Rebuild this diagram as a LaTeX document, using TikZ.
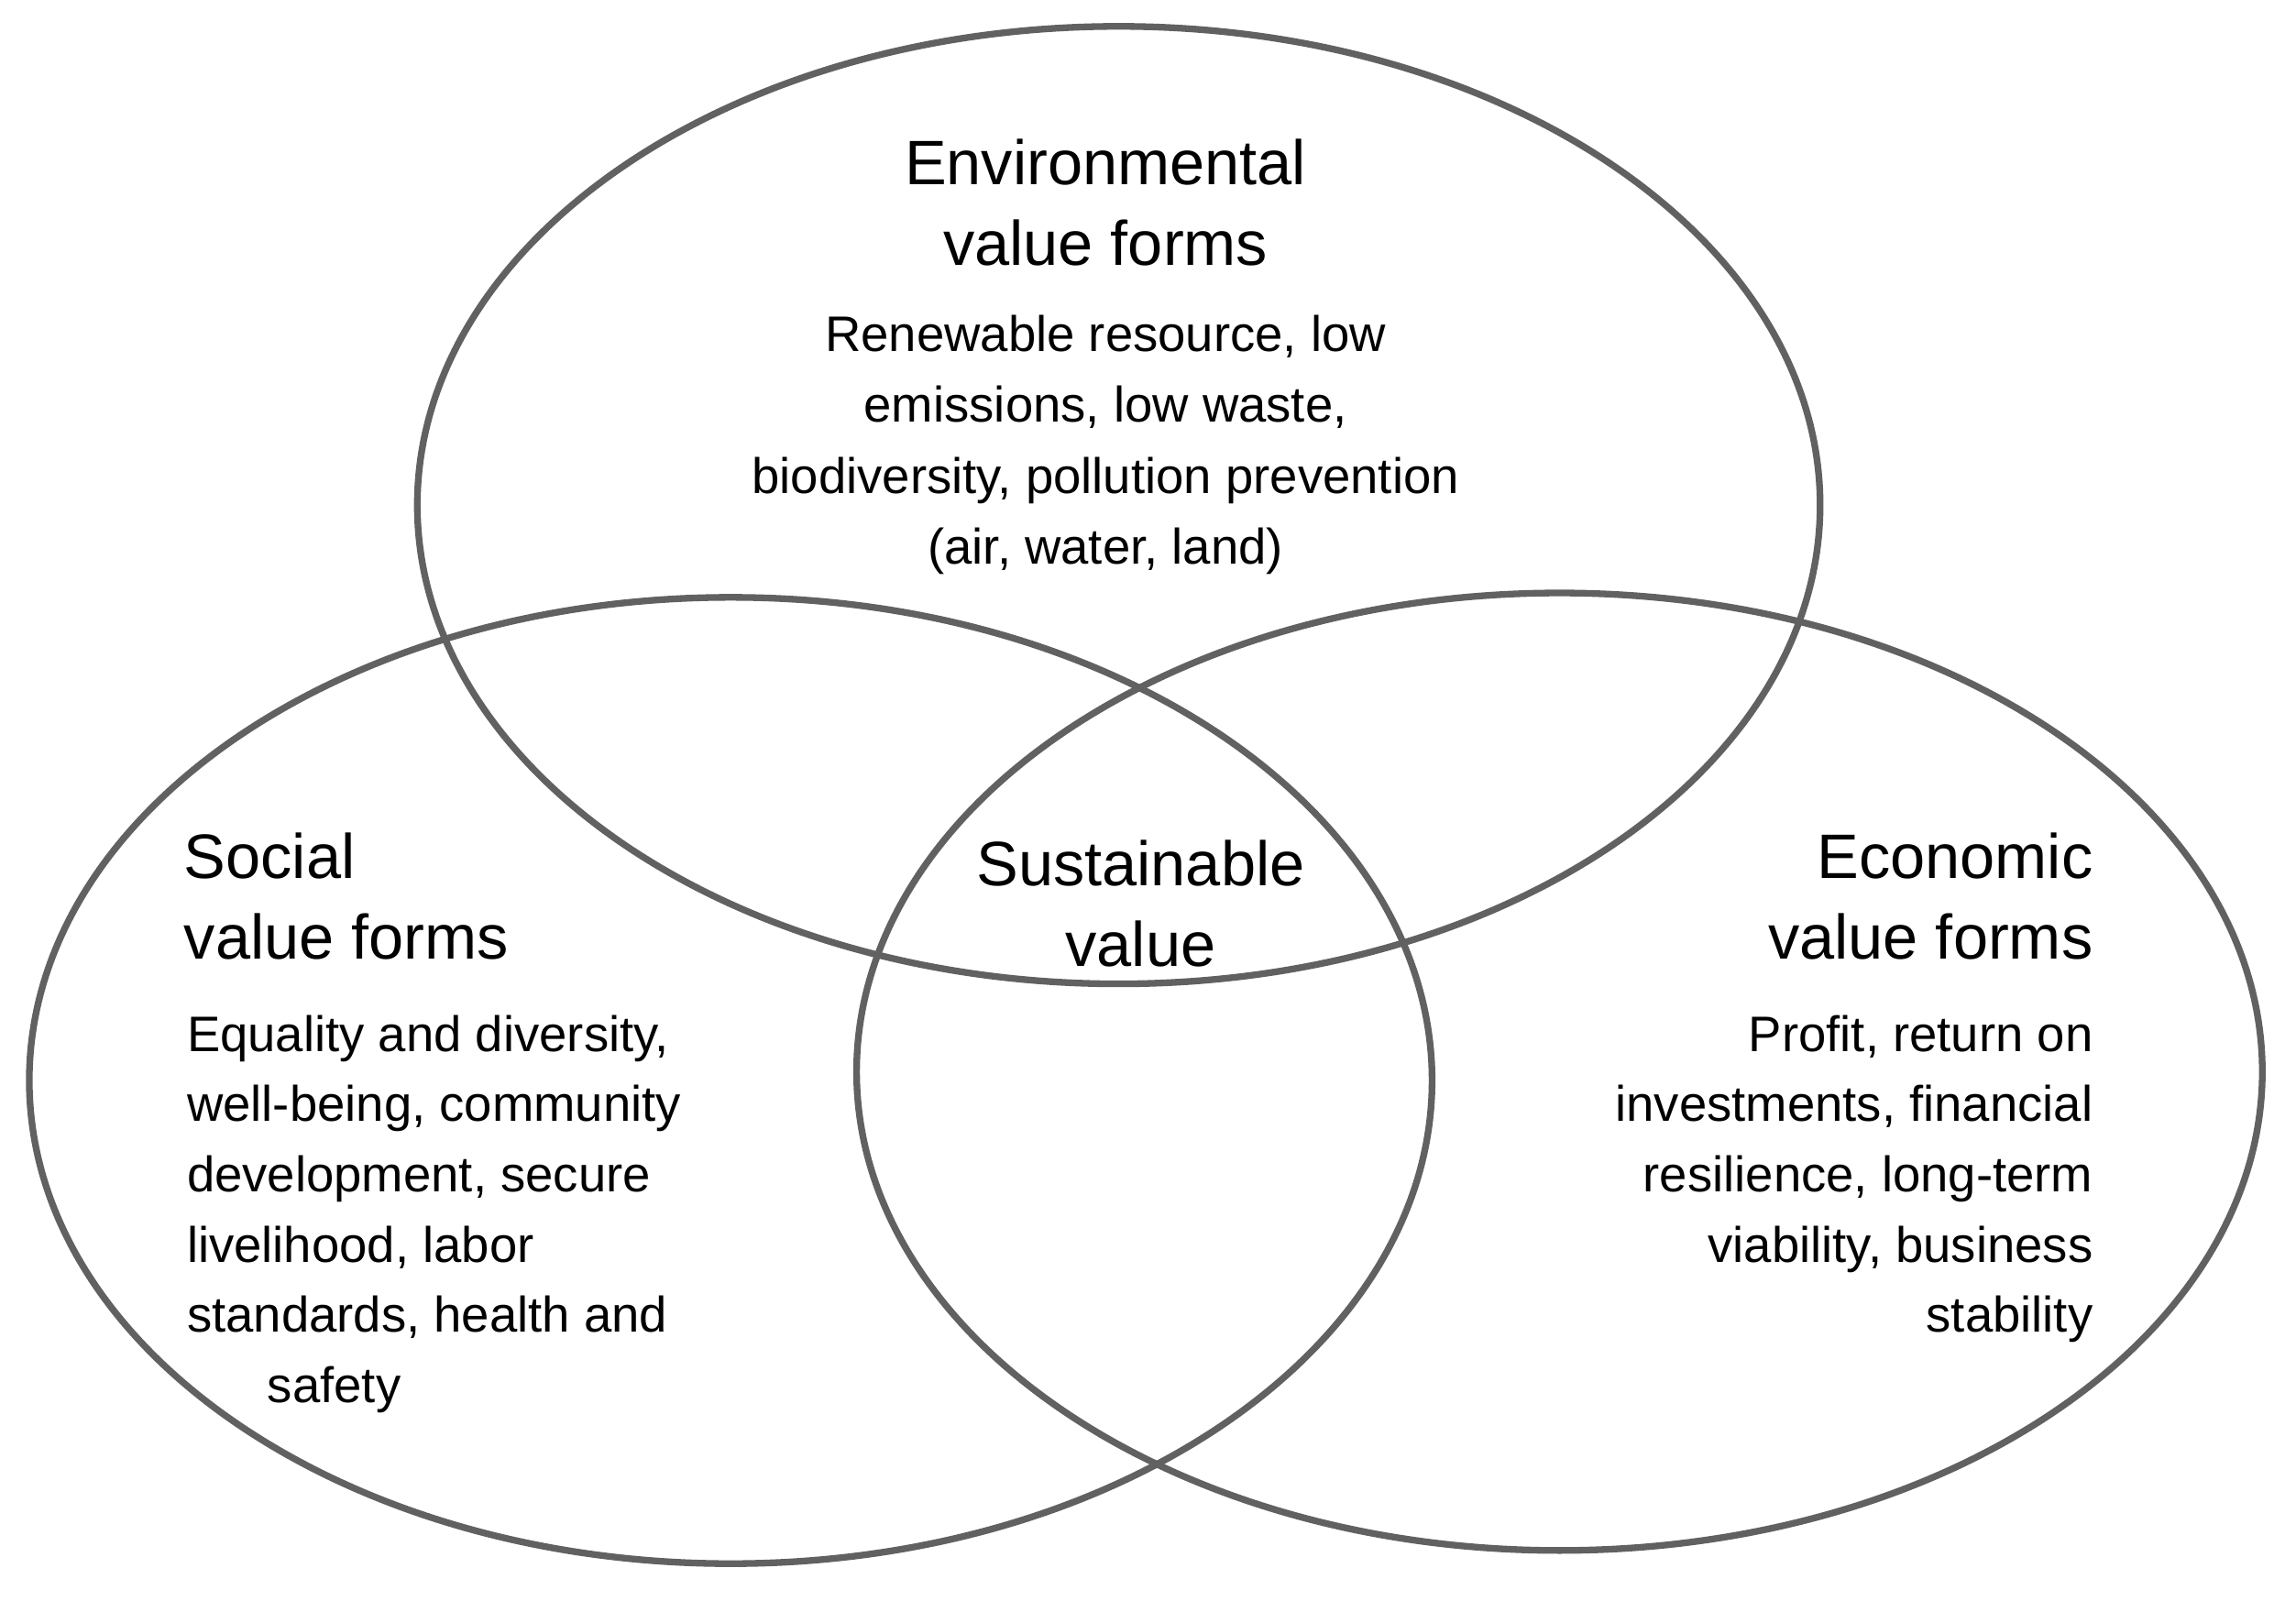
\documentclass[tikz,border=0pt]{standalone}
\usepackage{fontspec}
\setmainfont{Liberation Sans}
\begin{document}
\begin{tikzpicture}[x=0.01cm,y=-0.01cm,
  ring/.style={draw=black!62,line width=1.3pt},
  ttl/.style={font=\fontsize{12.2}{15}\selectfont,inner sep=0,anchor=base},
  bdy/.style={font=\fontsize{9.7}{13}\selectfont,inner sep=0,anchor=base}]
\useasboundingbox (0,0) rectangle (1568,1093);
\draw[ring] (764,345) ellipse [x radius=479, y radius=327];
\draw[ring] (499,738) ellipse [x radius=479, y radius=330];
\draw[ring] (1065,732) ellipse [x radius=480, y radius=327];
% environmental
\node[ttl] (e1) at (755,126) {Environmental};
\node[ttl] (e2) at (755,181) {value forms};
\node[bdy] (e3) at (755,240) {Renewable resource, low};
\node[bdy] (e4) at (755,288) {emissions, low waste,};
\node[bdy] (e5) at (755,337) {biodiversity, pollution prevention};
\node[bdy] (e6) at (755,385) {(air, water, land)};
% social
\node[ttl,anchor=base west] (s1) at (125,600) {Social};
\node[ttl,anchor=base west] (s2) at (125,655) {value forms};
\node[bdy,anchor=base west] (s3) at (127,718) {Equality and diversity,};
\node[bdy,anchor=base west] (s4) at (127,766) {well-being, community};
\node[bdy,anchor=base west] (s5) at (127,814) {development, secure};
\node[bdy,anchor=base west] (s6) at (127,862) {livelihood, labor};
\node[bdy,anchor=base west] (s7) at (127,910) {standards, health and};
\node[bdy,anchor=base west] (s8) at (182,958) {safety};
% economic
\node[ttl,anchor=base east] (c1) at (1430,600) {Economic};
\node[ttl,anchor=base east] (c2) at (1430,655) {value forms};
\node[bdy,anchor=base east] (c3) at (1430,718) {Profit, return on};
\node[bdy,anchor=base east] (c4) at (1430,766) {investments, financial};
\node[bdy,anchor=base east] (c5) at (1430,814) {resilience, long-term};
\node[bdy,anchor=base east] (c6) at (1430,862) {viability, business};
\node[bdy,anchor=base east] (c7) at (1430,910) {stability};
% centre
\node[ttl] (v1) at (779,605) {Sustainable};
\node[ttl] (v2) at (779,660) {value};
\end{tikzpicture}
\end{document}
